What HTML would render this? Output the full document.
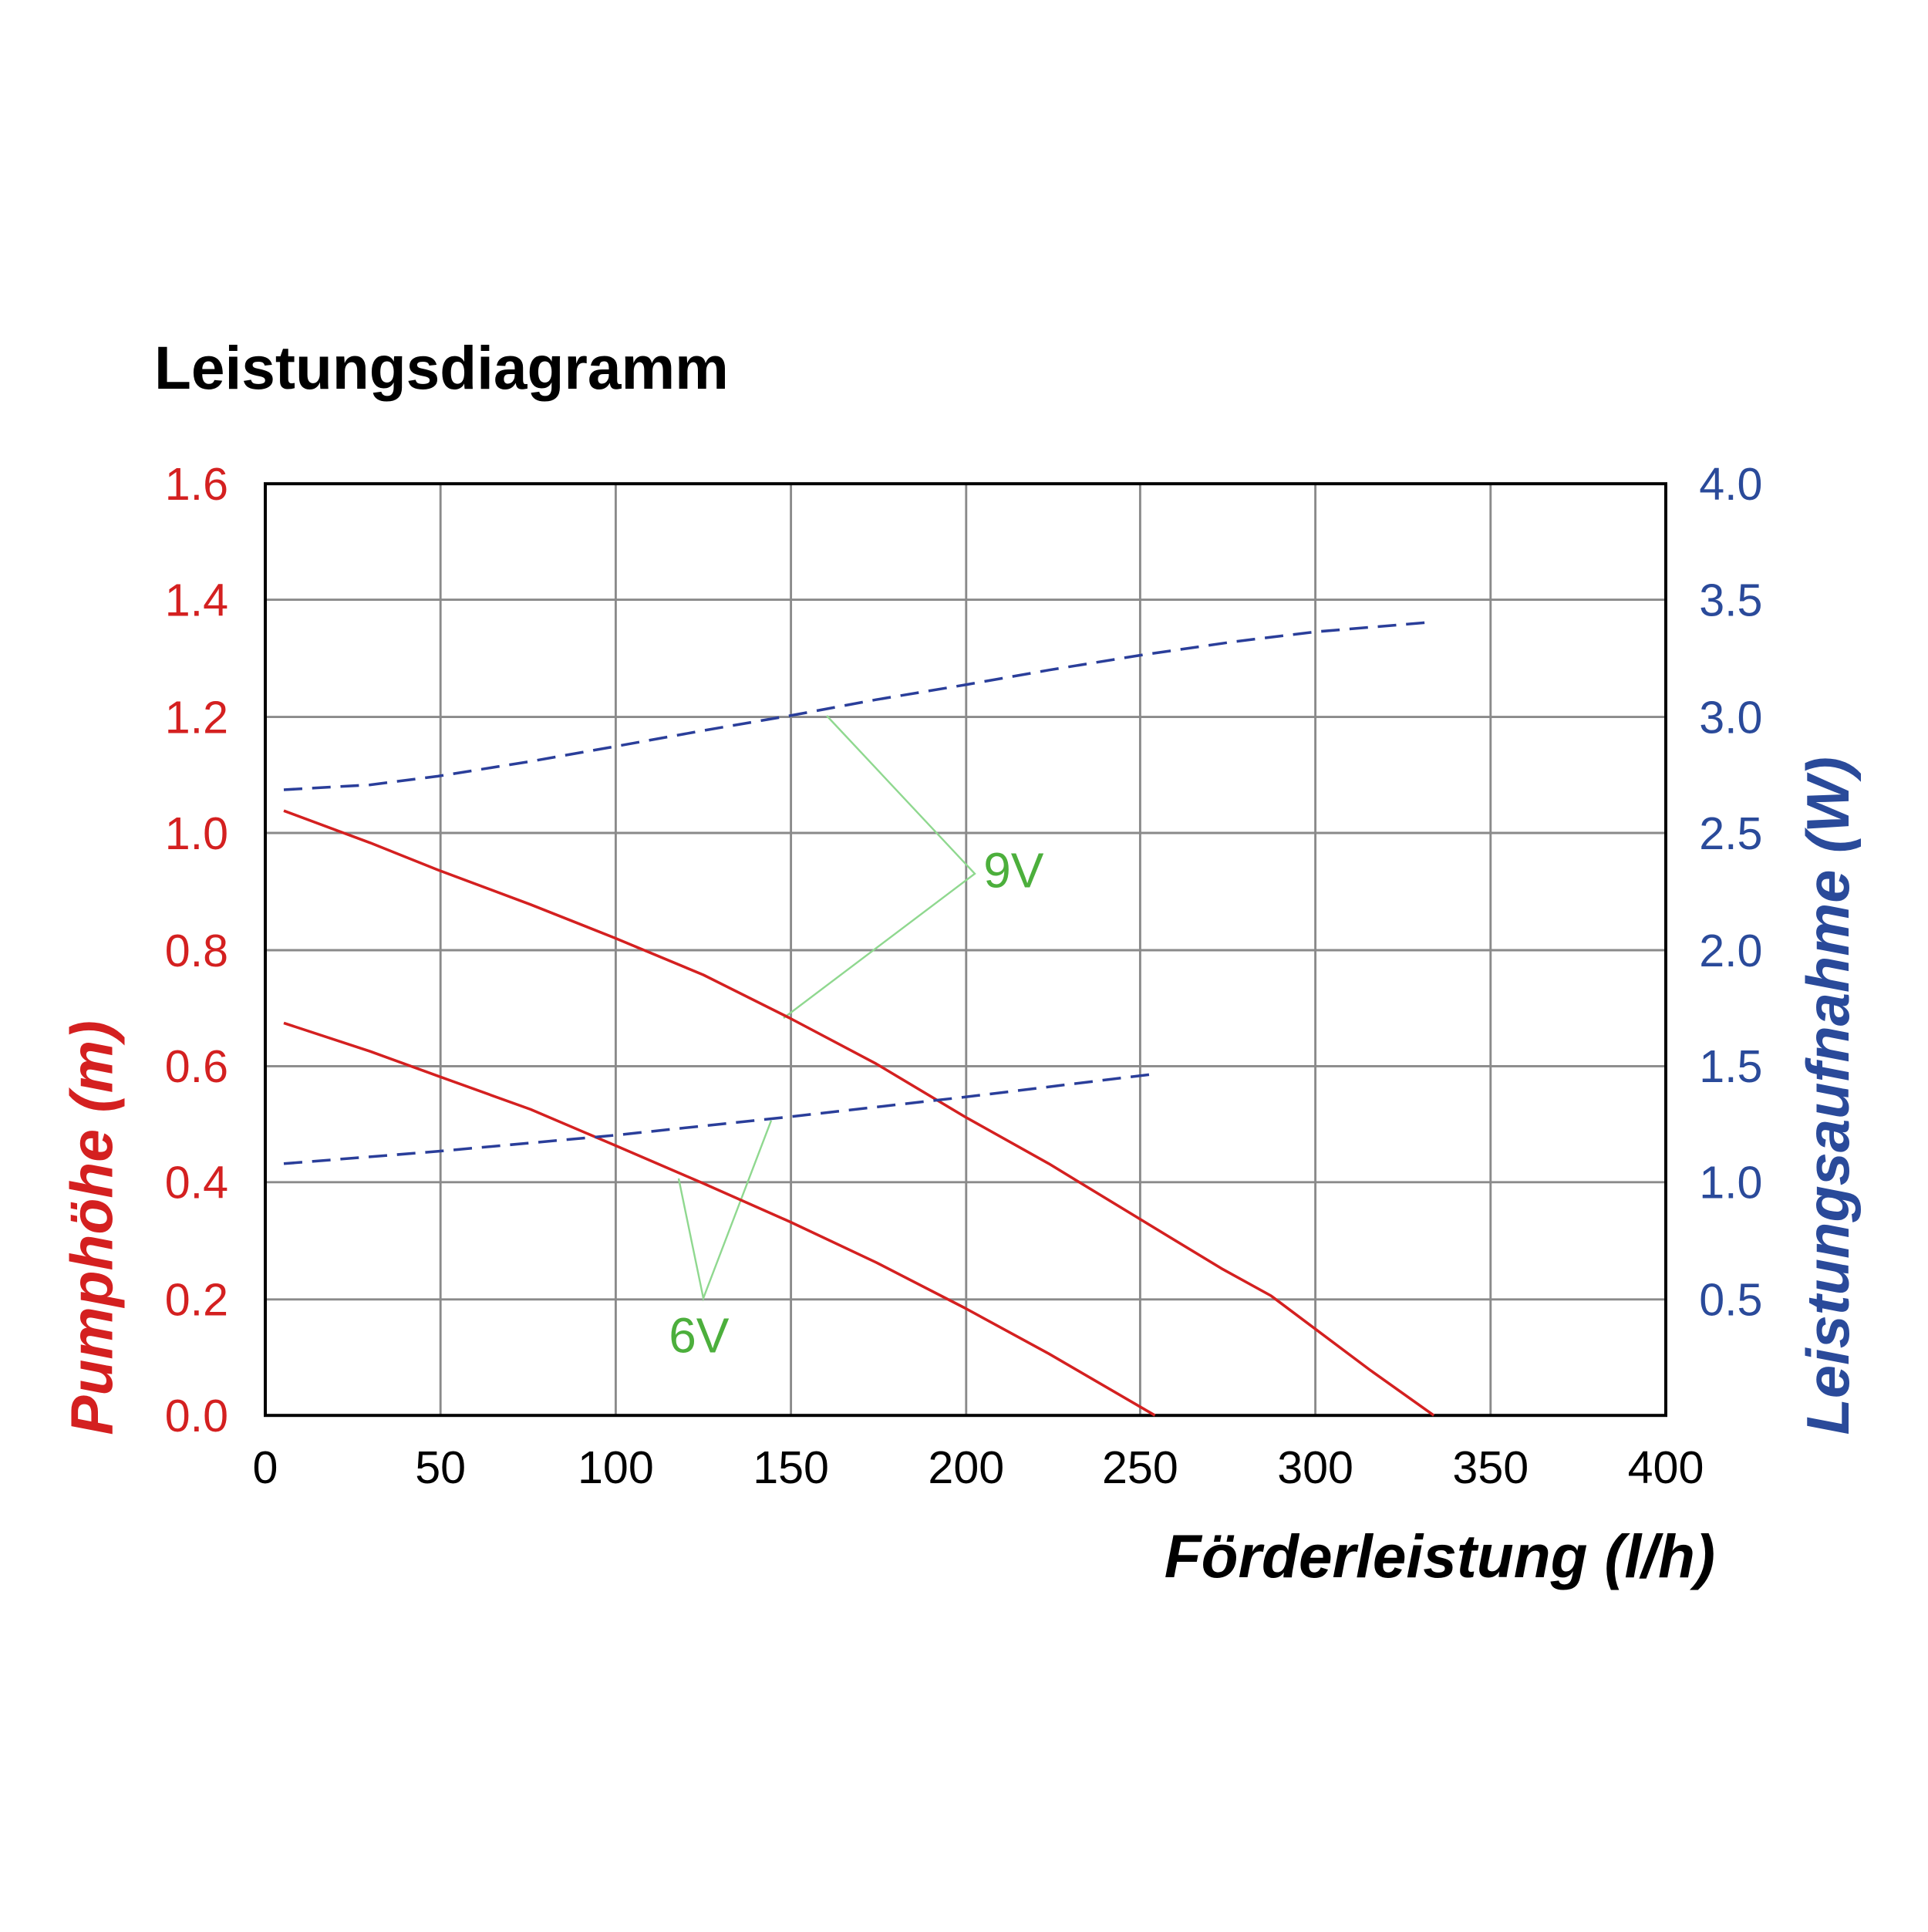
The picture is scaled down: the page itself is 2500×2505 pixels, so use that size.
<!DOCTYPE html>
<html><head><meta charset="utf-8"><style>html,body{margin:0;padding:0;background:#fff}</style></head>
<body>
<svg width="2500" height="2500" viewBox="0 0 1562.5 1562.5" xmlns="http://www.w3.org/2000/svg" font-family="Liberation Sans, Arial, sans-serif">
<rect width="1562.5" height="1562.5" fill="#fff"/>
<text x="125" y="315" font-size="49" font-weight="bold" fill="#000">Leistungsdiagramm</text>
<g stroke="#8a8a8a" stroke-width="1.8">
<line x1="357" y1="392" x2="357" y2="1147"/><line x1="499" y1="392" x2="499" y2="1147"/>
<line x1="641" y1="392" x2="641" y2="1147"/><line x1="783" y1="392" x2="783" y2="1147"/>
<line x1="924" y1="392" x2="924" y2="1147"/><line x1="1066" y1="392" x2="1066" y2="1147"/>
<line x1="1208" y1="392" x2="1208" y2="1147"/>
<line x1="215" y1="486" x2="1350" y2="486"/><line x1="215" y1="581" x2="1350" y2="581"/>
<line x1="215" y1="675" x2="1350" y2="675"/><line x1="215" y1="770" x2="1350" y2="770"/>
<line x1="215" y1="864" x2="1350" y2="864"/><line x1="215" y1="958" x2="1350" y2="958"/>
<line x1="215" y1="1053" x2="1350" y2="1053"/>
</g>
<rect x="215" y="392" width="1135" height="755" fill="none" stroke="#000" stroke-width="2.5"/>
<g fill="none" stroke="#8fd88f" stroke-width="1.5">
<polyline points="670,580 790,708 635,825"/>
<polyline points="550,955 570,1052 625,908"/>
</g>
<g fill="none" stroke="#d42020" stroke-width="2.2" stroke-linejoin="round">
<polyline points="230,657 300,683 355,705 430,733 498,760 570,790 640,825 710,862 782,905 850,943 924,988 990,1028 1030,1050 1066,1077 1110,1110 1162,1147"/>
<polyline points="230,829 300,852 355,872 430,899 498,928 570,959 640,990 710,1023 782,1060 850,1097 936,1147"/>
</g>
<g fill="none" stroke="#2a3e9a" stroke-width="2.2" stroke-dasharray="15,8">
<polyline points="230,640 300,636 355,629 430,617 498,605 570,592 640,580 710,567 782,555 850,543 924,531 1000,520 1066,512 1162,504"/>
<polyline points="230,943 355,933 498,920 640,905 782,889 938,870"/>
</g>
<text x="797" y="719" font-size="40" fill="#4caf3c">9V</text>
<text x="542" y="1096" font-size="40" fill="#4caf3c">6V</text>
<g font-size="37" fill="#d42020" text-anchor="end">
<text x="185" y="405">1.6</text><text x="185" y="499">1.4</text><text x="185" y="594">1.2</text>
<text x="185" y="688">1.0</text><text x="185" y="783">0.8</text><text x="185" y="877">0.6</text>
<text x="185" y="971">0.4</text><text x="185" y="1066">0.2</text><text x="185" y="1160">0.0</text>
</g>
<g font-size="37" fill="#2a4a9a">
<text x="1377" y="405">4.0</text><text x="1377" y="499">3.5</text><text x="1377" y="594">3.0</text>
<text x="1377" y="688">2.5</text><text x="1377" y="783">2.0</text><text x="1377" y="877">1.5</text>
<text x="1377" y="971">1.0</text><text x="1377" y="1066">0.5</text>
</g>
<g font-size="37" fill="#000" text-anchor="middle">
<text x="215" y="1202">0</text><text x="357" y="1202">50</text><text x="499" y="1202">100</text>
<text x="641" y="1202">150</text><text x="783" y="1202">200</text><text x="924" y="1202">250</text>
<text x="1066" y="1202">300</text><text x="1208" y="1202">350</text><text x="1350" y="1202">400</text>
</g>
<text x="1390" y="1278" font-size="49" font-weight="bold" font-style="italic" text-anchor="end" fill="#000">Förderleistung (l/h)</text>
<text transform="translate(91,995) rotate(-90)" font-size="48" font-weight="bold" font-style="italic" text-anchor="middle" fill="#d42020">Pumphöhe (m)</text>
<text transform="translate(1498,888) rotate(-90)" font-size="48.5" font-weight="bold" font-style="italic" text-anchor="middle" fill="#2a4a9a">Leistungsaufnahme (W)</text>
</svg>
</body></html>
